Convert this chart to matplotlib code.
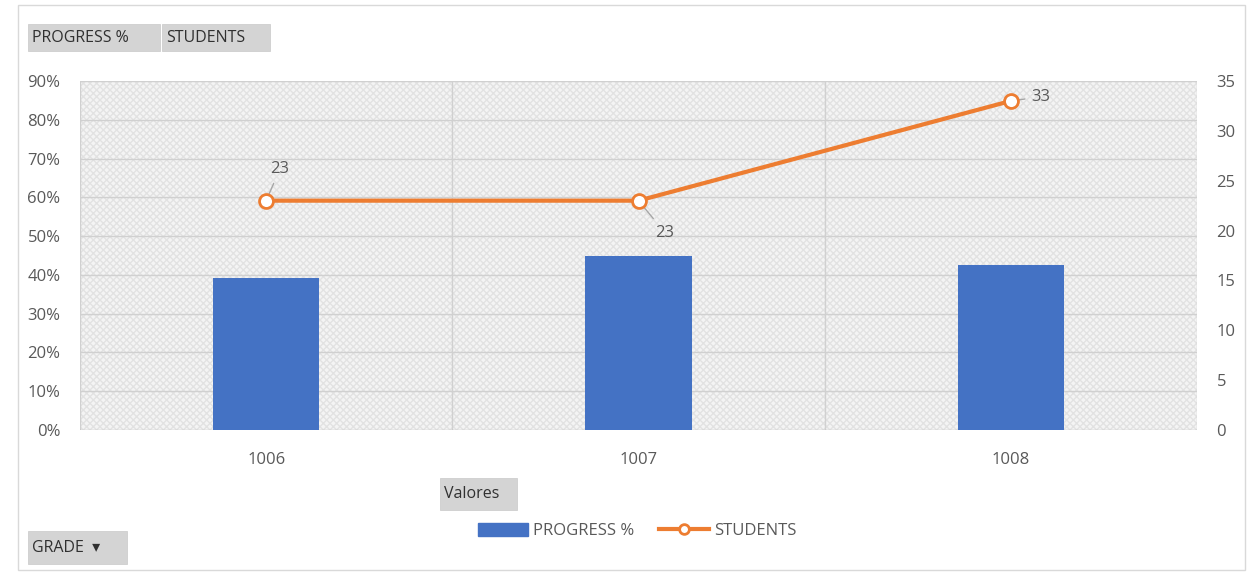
import matplotlib
matplotlib.use("Agg")
import matplotlib.pyplot as plt
from matplotlib.patches import Rectangle
from matplotlib.lines import Line2D
from matplotlib.ticker import PercentFormatter, MultipleLocator

grades = ["1006", "1007", "1008"]
progress = [0.392, 0.449, 0.425]
students = [23, 23, 33]
pct_ticks = [0, 0.1, 0.2, 0.3, 0.4, 0.5, 0.6, 0.7, 0.8, 0.9]

W, H = 1250, 573
fig = plt.figure(figsize=(W / 100, H / 100), dpi=100)
plt.rcParams['font.family'] = ['Open Sans', 'DejaVu Sans']

def fx(px):
    return px / W

def fy(py):
    return 1 - py / H

# outer frame
fig.patches.append(Rectangle((fx(18), fy(570)), fx(1227), 565 / H, transform=fig.transFigure,
                             fill=False, edgecolor="#d9d9d9", lw=1))

ax = fig.add_axes([fx(80), fy(430), fx(1197 - 80), (430 - 81) / H])
ax.set_facecolor("#f4f4f4")
ax.add_patch(Rectangle((0, 0), 1, 1, transform=ax.transAxes, fill=False, hatch="xxxxx",
                       edgecolor="#e2e2e2", lw=0, zorder=0))
x = list(range(len(grades)))
ax.bar(x, progress, width=0.285, color="#4472c4", zorder=3)
ax.set_xlim(-0.5, 2.5)
ax.set_ylim(0, 0.9)
ax.set_yticks(pct_ticks)
ax.yaxis.set_major_formatter(PercentFormatter(1.0, decimals=0))
ax.set_xticks(x)
ax.set_xticklabels(grades)
for s in ax.spines.values():
    s.set_visible(False)
ax.tick_params(axis="both", length=0, colors="#595959", labelsize=12)
ax.tick_params(axis="x", pad=16)
ax.tick_params(axis="y", pad=14)
for yv in pct_ticks[1:]:
    ax.axhline(yv, color="#d0d0d0", lw=1, zorder=1)
ax.axhline(0, color="#bfbfbf", lw=1, zorder=2)
for xv in [0.5, 1.5]:
    ax.axvline(xv, color="#d0d0d0", lw=1, zorder=1)
ax.axvline(-0.5, color="#d0d0d0", lw=1, zorder=1)
ax.axvline(2.5, color="#d0d0d0", lw=1, zorder=1)

ax2 = ax.twinx()
ax2.set_ylim(0, 35)
ax2.yaxis.set_major_locator(MultipleLocator(5))
for s in ax2.spines.values():
    s.set_visible(False)
ax2.tick_params(axis="y", length=0, colors="#595959", labelsize=12, pad=14)
ax2.plot(x, students, color="#ed7d31", lw=3, marker="o", markersize=10,
         markerfacecolor="white", markeredgecolor="#ed7d31", markeredgewidth=2, zorder=4)

# data labels (offsets in points)
offsets = [(10, 23, "center", "center"), (19, -23, "center", "center"), (15, 3, "left", "center")]
for xi, yi, (dx, dy, ha, va) in zip(x, students, offsets):
    ax2.annotate(str(yi), (xi, yi), xytext=(dx, dy), textcoords="offset points",
                 ha=ha, va=va, fontsize=12, color="#595959",
                 arrowprops=dict(arrowstyle="-", color="#a6a6a6", lw=1, shrinkA=3, shrinkB=5))

# buttons
def button(x0, y0, x1, y1, text, fs=11.5):
    fig.patches.append(Rectangle((fx(x0), fy(y1)), fx(x1 - x0), (y1 - y0) / H,
                                 transform=fig.transFigure, facecolor="#d4d4d4", edgecolor="#c8c8c8", lw=0.5))
    fig.text(fx(x0 + 4), fy((y0 + y1) / 2), text, ha="left", va="center",
             fontsize=fs, color="#303030")

button(28, 24, 160, 51, "PROGRESS %")
button(162, 24, 270, 51, "STUDENTS")
button(440, 478, 517, 510, "Valores")
button(28, 531, 127, 564, "GRADE  ▾")

bar_h = Rectangle((0, 0), 1, 1, color="#4472c4")
line_h = Line2D([], [], color="#ed7d31", lw=3, marker="o", markersize=7,
                markerfacecolor="white", markeredgecolor="#ed7d31", markeredgewidth=2)
fig.legend([bar_h, line_h], ["PROGRESS %", "STUDENTS"],
           loc="center", bbox_to_anchor=(fx(637), fy(531)), ncol=2, frameon=False,
           fontsize=12, handlelength=3.0, handleheight=0.8, columnspacing=1.5,
           handletextpad=0.3, labelcolor="#595959")

fig.savefig("out.png", dpi=100, facecolor="white")
